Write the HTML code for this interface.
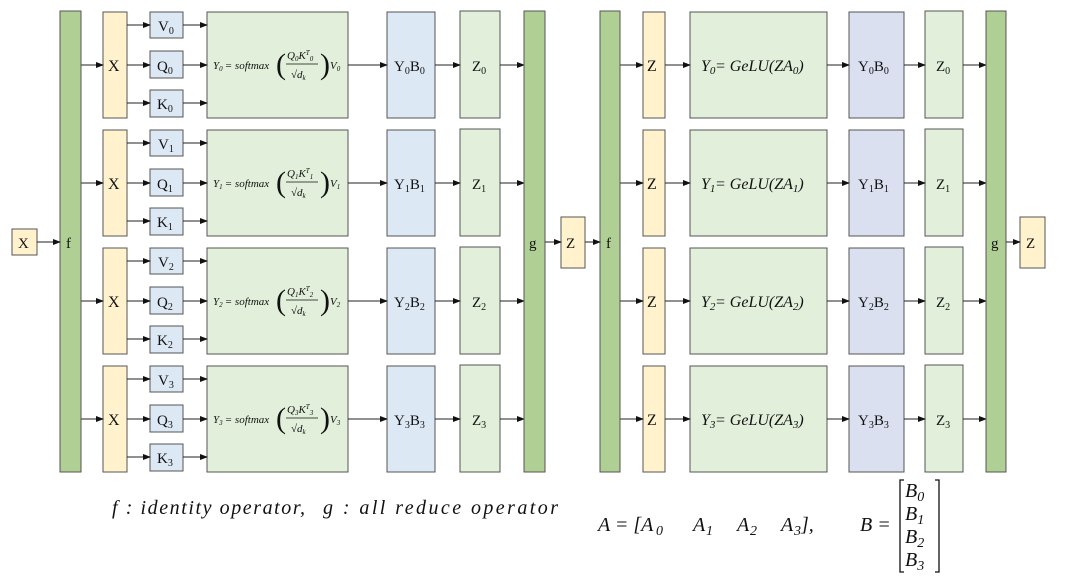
<!DOCTYPE html>
<html><head><meta charset="utf-8"><style>
body{margin:0;background:#fff}
svg{display:block}
text{font-family:"Liberation Serif",serif;fill:#111}
.m{font-style:italic}
</style></head><body>
<svg width="1080" height="583" viewBox="0 0 1080 583">
<defs>
<marker id="a" markerWidth="8" markerHeight="8" refX="7" refY="4" orient="auto" markerUnits="userSpaceOnUse"><path d="M0,1 L8,4 L0,7z" fill="#111"/></marker>
<g id="lrow" stroke="#555" stroke-width="1">
<rect x="103" y="12" width="24" height="106" fill="#fff2cc"/>
<rect x="150" y="12" width="33" height="26" fill="#dde8f5"/>
<rect x="150" y="51" width="33" height="27" fill="#dde8f5"/>
<rect x="150" y="90" width="33" height="27" fill="#dde8f5"/>
<rect x="207" y="12" width="141" height="106" fill="#e2efda"/>
<rect x="387" y="12" width="48" height="106" fill="#dde8f5"/>
<rect x="460" y="11" width="40" height="107" fill="#e2efda"/>
<g stroke="#222" marker-end="url(#a)">
<line x1="81" y1="65" x2="103" y2="65"/>
<line x1="127" y1="25" x2="150" y2="25"/><line x1="127" y1="65" x2="150" y2="65"/><line x1="127" y1="103" x2="150" y2="103"/>
<line x1="183" y1="25" x2="207" y2="25"/><line x1="183" y1="65" x2="207" y2="65"/><line x1="183" y1="103" x2="207" y2="103"/>
<line x1="348" y1="65" x2="387" y2="65"/><line x1="435" y1="65" x2="460" y2="65"/><line x1="500" y1="65" x2="524" y2="65"/>
</g>
<text x="108" y="71" font-size="16" stroke="none">X</text>
</g>
<g id="rrow" stroke="#555" stroke-width="1">
<rect x="643" y="12" width="22" height="106" fill="#fff2cc"/>
<rect x="690" y="12" width="137" height="106" fill="#e2efda"/>
<rect x="849" y="12" width="55" height="106" fill="#dae0f0"/>
<rect x="925" y="11" width="38" height="107" fill="#e2efda"/>
<g stroke="#222" marker-end="url(#a)">
<line x1="620" y1="65" x2="643" y2="65"/><line x1="665" y1="65" x2="690" y2="65"/><line x1="827" y1="65" x2="849" y2="65"/><line x1="904" y1="65" x2="925" y2="65"/><line x1="963" y1="65" x2="986" y2="65"/>
</g>
<text x="647" y="71" font-size="16" stroke="none">Z</text>
</g>
</defs>
<use href="#lrow"/><use href="#lrow" y="118"/><use href="#lrow" y="236"/><use href="#lrow" y="354"/>
<use href="#rrow"/><use href="#rrow" y="118"/><use href="#rrow" y="236"/><use href="#rrow" y="354"/>
<g stroke="#555" stroke-width="1">
<rect x="12" y="229" width="25" height="26" fill="#fff2cc"/>
<rect x="60" y="11" width="21" height="461" fill="#b0cf95"/>
<rect x="524" y="11" width="21" height="461" fill="#b0cf95"/>
<rect x="561" y="217" width="24" height="51" fill="#fff2cc"/>
<rect x="600" y="11" width="20" height="461" fill="#b0cf95"/>
<rect x="986" y="11" width="20" height="461" fill="#b0cf95"/>
<rect x="1020" y="217" width="25" height="51" fill="#fff2cc"/>
</g>
<g stroke="#222" marker-end="url(#a)">
<line x1="37" y1="242" x2="60" y2="242"/><line x1="545" y1="242" x2="561" y2="242"/><line x1="585" y1="242" x2="600" y2="242"/><line x1="1006" y1="242" x2="1020" y2="242"/>
</g>
<g font-size="15">
<text x="18" y="248">X</text><text x="66" y="248">f</text><text x="529" y="248">g</text><text x="566" y="248">Z</text>
<text x="606" y="248">f</text><text x="991" y="248">g</text><text x="1026" y="248">Z</text>
</g>
<g font-size="15">
<text x="158" y="31">V<tspan font-size="10" dy="3">0</tspan></text><text x="157" y="71">Q<tspan font-size="10" dy="3">0</tspan></text><text x="157" y="109">K<tspan font-size="10" dy="3">0</tspan></text>
<text x="158" y="149">V<tspan font-size="10" dy="3">1</tspan></text><text x="157" y="189">Q<tspan font-size="10" dy="3">1</tspan></text><text x="157" y="227">K<tspan font-size="10" dy="3">1</tspan></text>
<text x="158" y="267">V<tspan font-size="10" dy="3">2</tspan></text><text x="157" y="307">Q<tspan font-size="10" dy="3">2</tspan></text><text x="157" y="345">K<tspan font-size="10" dy="3">2</tspan></text>
<text x="158" y="385">V<tspan font-size="10" dy="3">3</tspan></text><text x="157" y="425">Q<tspan font-size="10" dy="3">3</tspan></text><text x="157" y="463">K<tspan font-size="10" dy="3">3</tspan></text>
<text x="394" y="71">Y<tspan font-size="10" dy="3">0</tspan><tspan dy="-3">B</tspan><tspan font-size="10" dy="3">0</tspan></text>
<text x="394" y="189">Y<tspan font-size="10" dy="3">1</tspan><tspan dy="-3">B</tspan><tspan font-size="10" dy="3">1</tspan></text>
<text x="394" y="307">Y<tspan font-size="10" dy="3">2</tspan><tspan dy="-3">B</tspan><tspan font-size="10" dy="3">2</tspan></text>
<text x="394" y="425">Y<tspan font-size="10" dy="3">3</tspan><tspan dy="-3">B</tspan><tspan font-size="10" dy="3">3</tspan></text>
<text x="472" y="71">Z<tspan font-size="10" dy="3">0</tspan></text><text x="472" y="189">Z<tspan font-size="10" dy="3">1</tspan></text><text x="472" y="307">Z<tspan font-size="10" dy="3">2</tspan></text><text x="472" y="425">Z<tspan font-size="10" dy="3">3</tspan></text>
<text x="858" y="71">Y<tspan font-size="10" dy="3">0</tspan><tspan dy="-3">B</tspan><tspan font-size="10" dy="3">0</tspan></text>
<text x="858" y="189">Y<tspan font-size="10" dy="3">1</tspan><tspan dy="-3">B</tspan><tspan font-size="10" dy="3">1</tspan></text>
<text x="858" y="307">Y<tspan font-size="10" dy="3">2</tspan><tspan dy="-3">B</tspan><tspan font-size="10" dy="3">2</tspan></text>
<text x="858" y="425">Y<tspan font-size="10" dy="3">3</tspan><tspan dy="-3">B</tspan><tspan font-size="10" dy="3">3</tspan></text>
<text x="936" y="71">Z<tspan font-size="10" dy="3">0</tspan></text><text x="936" y="189">Z<tspan font-size="10" dy="3">1</tspan></text><text x="936" y="307">Z<tspan font-size="10" dy="3">2</tspan></text><text x="936" y="425">Z<tspan font-size="10" dy="3">3</tspan></text>
</g>
<!-- softmax formulas -->
<g class="m" font-size="11">
<text x="213" y="69">Y<tspan font-size="7" dy="2">0</tspan><tspan dy="-2" x="222"> = softmax</tspan></text>
<text x="276" y="74" font-size="30" font-style="normal">(</text><text x="320" y="74" font-size="30" font-style="normal">)</text>
<text x="287" y="59">Q<tspan font-size="7" dy="2">0</tspan><tspan dy="-2">K</tspan><tspan font-size="7" dy="-4">T</tspan><tspan font-size="7" dy="6">0</tspan></text>
<line x1="286" y1="64" x2="318" y2="64" stroke="#111" stroke-width="0.8"/>
<text x="291" y="78">√d<tspan font-size="7" dy="2">k</tspan></text>
<text x="330" y="69">V<tspan font-size="7" dy="2">0</tspan></text>
</g>
<g class="m" font-size="11" transform="translate(0,118)">
<text x="213" y="69">Y<tspan font-size="7" dy="2">1</tspan><tspan dy="-2" x="222"> = softmax</tspan></text>
<text x="276" y="74" font-size="30" font-style="normal">(</text><text x="320" y="74" font-size="30" font-style="normal">)</text>
<text x="287" y="59">Q<tspan font-size="7" dy="2">1</tspan><tspan dy="-2">K</tspan><tspan font-size="7" dy="-4">T</tspan><tspan font-size="7" dy="6">1</tspan></text>
<line x1="286" y1="64" x2="318" y2="64" stroke="#111" stroke-width="0.8"/>
<text x="291" y="78">√d<tspan font-size="7" dy="2">k</tspan></text>
<text x="330" y="69">V<tspan font-size="7" dy="2">1</tspan></text>
</g>
<g class="m" font-size="11" transform="translate(0,236)">
<text x="213" y="69">Y<tspan font-size="7" dy="2">2</tspan><tspan dy="-2" x="222"> = softmax</tspan></text>
<text x="276" y="74" font-size="30" font-style="normal">(</text><text x="320" y="74" font-size="30" font-style="normal">)</text>
<text x="287" y="59">Q<tspan font-size="7" dy="2">1</tspan><tspan dy="-2">K</tspan><tspan font-size="7" dy="-4">T</tspan><tspan font-size="7" dy="6">2</tspan></text>
<line x1="286" y1="64" x2="318" y2="64" stroke="#111" stroke-width="0.8"/>
<text x="291" y="78">√d<tspan font-size="7" dy="2">k</tspan></text>
<text x="330" y="69">V<tspan font-size="7" dy="2">2</tspan></text>
</g>
<g class="m" font-size="11" transform="translate(0,354)">
<text x="213" y="69">Y<tspan font-size="7" dy="2">3</tspan><tspan dy="-2" x="222"> = softmax</tspan></text>
<text x="276" y="74" font-size="30" font-style="normal">(</text><text x="320" y="74" font-size="30" font-style="normal">)</text>
<text x="287" y="59">Q<tspan font-size="7" dy="2">3</tspan><tspan dy="-2">K</tspan><tspan font-size="7" dy="-4">T</tspan><tspan font-size="7" dy="6">3</tspan></text>
<line x1="286" y1="64" x2="318" y2="64" stroke="#111" stroke-width="0.8"/>
<text x="291" y="78">√d<tspan font-size="7" dy="2">k</tspan></text>
<text x="330" y="69">V<tspan font-size="7" dy="2">3</tspan></text>
</g>
<!-- GeLU -->
<g class="m" font-size="16">
<text x="701" y="71">Y<tspan font-size="11" dy="3">0</tspan><tspan dy="-3" x="715">= GeLU(ZA</tspan><tspan font-size="11" dy="3">0</tspan><tspan dy="-3">)</tspan></text>
<text x="701" y="189">Y<tspan font-size="11" dy="3">1</tspan><tspan dy="-3" x="715">= GeLU(ZA</tspan><tspan font-size="11" dy="3">1</tspan><tspan dy="-3">)</tspan></text>
<text x="701" y="307">Y<tspan font-size="11" dy="3">2</tspan><tspan dy="-3" x="715">= GeLU(ZA</tspan><tspan font-size="11" dy="3">2</tspan><tspan dy="-3">)</tspan></text>
<text x="701" y="425">Y<tspan font-size="11" dy="3">3</tspan><tspan dy="-3" x="715">= GeLU(ZA</tspan><tspan font-size="11" dy="3">3</tspan><tspan dy="-3">)</tspan></text>
</g>
<!-- bottom -->
<g class="m" font-size="20">
<text x="112" y="514" textLength="193" lengthAdjust="spacing">f : identity operator,</text>
<text x="323" y="514" textLength="235" lengthAdjust="spacing">g : all reduce operator</text>
<text x="598" y="531">A = [A</text><text x="656" y="535" font-size="14">0</text>
<text x="693" y="531">A</text><text x="706" y="535" font-size="14">1</text>
<text x="737" y="531">A</text><text x="750" y="535" font-size="14">2</text>
<text x="781" y="531">A</text><text x="794" y="535" font-size="14">3</text>
<text x="801" y="531">],</text>
<text x="860" y="531">B =</text>
<text x="905" y="497">B<tspan font-size="14" dy="4">0</tspan></text>
<text x="905" y="520">B<tspan font-size="14" dy="4">1</tspan></text>
<text x="905" y="543">B<tspan font-size="14" dy="4">2</tspan></text>
<text x="905" y="566">B<tspan font-size="14" dy="4">3</tspan></text>
</g>
<path d="M904,480 H900 V572 H904 M935,480 H939 V572 H935" fill="none" stroke="#111" stroke-width="1.3"/>
</svg>
</body></html>
